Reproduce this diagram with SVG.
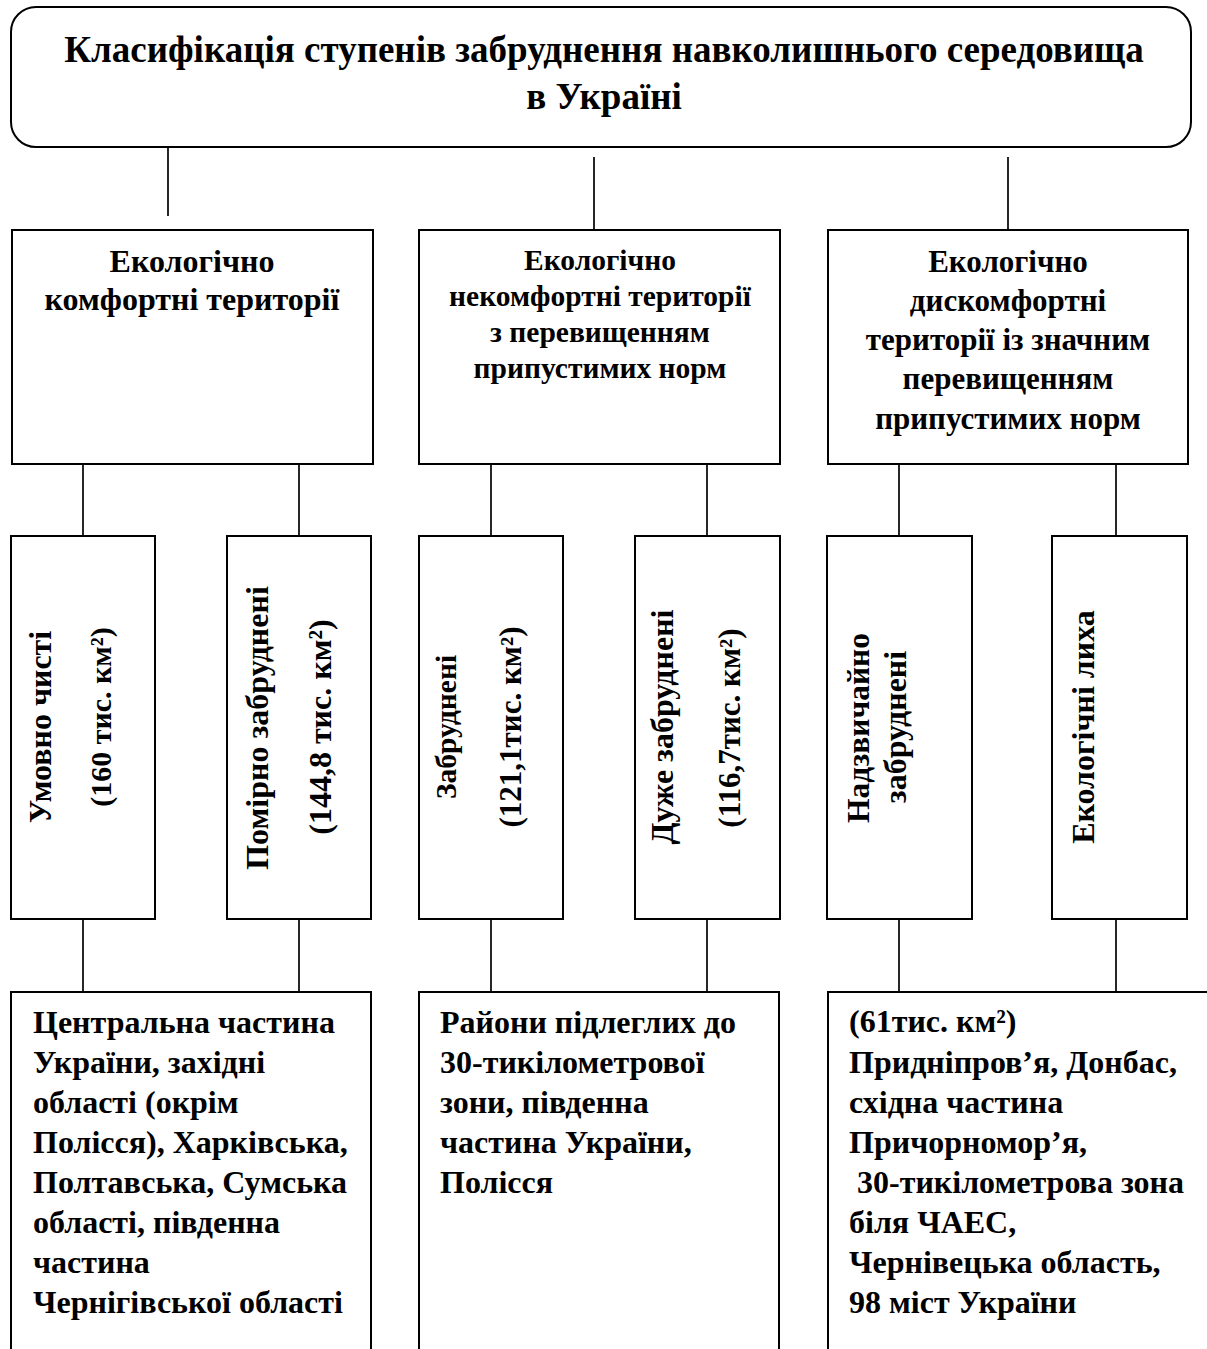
<svg xmlns="http://www.w3.org/2000/svg" width="1207" height="1349" viewBox="0 0 1207 1349">
<style>
.box{fill:#fff;stroke:#000;stroke-width:2}
.ln{stroke:#000;stroke-width:1.7;fill:none}
text{font-family:"Liberation Serif","Times New Roman",serif;font-weight:bold;fill:#000}
.t{font-size:37px;text-anchor:middle}
.c{font-size:31px;text-anchor:middle}
.v{font-size:32px;text-anchor:middle}
.b{font-size:32px}
</style>
<rect width="1207" height="1349" fill="#fff"/>
<g id="connectors">
<line class="ln" x1="168" y1="147" x2="168" y2="216"/>
<line class="ln" x1="594" y1="157" x2="594" y2="230"/>
<line class="ln" x1="1008" y1="157" x2="1008" y2="230"/>
<line class="ln" x1="83" y1="464" x2="83" y2="536"/>
<line class="ln" x1="299" y1="464" x2="299" y2="536"/>
<line class="ln" x1="491" y1="464" x2="491" y2="536"/>
<line class="ln" x1="707" y1="464" x2="707" y2="536"/>
<line class="ln" x1="899" y1="464" x2="899" y2="536"/>
<line class="ln" x1="1116" y1="464" x2="1116" y2="536"/>
<line class="ln" x1="83" y1="919" x2="83" y2="992"/>
<line class="ln" x1="299" y1="919" x2="299" y2="992"/>
<line class="ln" x1="491" y1="919" x2="491" y2="992"/>
<line class="ln" x1="707" y1="919" x2="707" y2="992"/>
<line class="ln" x1="899" y1="919" x2="899" y2="992"/>
<line class="ln" x1="1116" y1="919" x2="1116" y2="992"/>
</g>
<g id="title">
<rect class="box" x="11" y="7" width="1180" height="140" rx="25"/>
<text class="t" x="604" y="62">Класифікація ступенів забруднення навколишнього середовища</text>
<text class="t" x="604" y="109">в Україні</text>
</g>
<g id="cat1">
<rect class="box" x="12" y="230" width="361" height="234"/>
<text class="c" x="192" y="272" style="font-size:32px">Екологічно</text>
<text class="c" x="192" y="310" style="font-size:32px">комфортні території</text>
</g>
<g id="cat2">
<rect class="box" x="419" y="230" width="361" height="234"/>
<text class="c" x="600" y="270" style="font-size:29.5px">Екологічно</text>
<text class="c" x="600" y="306" style="font-size:29.5px">некомфортні території</text>
<text class="c" x="600" y="342" style="font-size:29.5px">з перевищенням</text>
<text class="c" x="600" y="378" style="font-size:29.5px">припустимих норм</text>
</g>
<g id="cat3">
<rect class="box" x="828" y="230" width="360" height="234"/>
<text class="c" x="1008" y="272">Екологічно</text>
<text class="c" x="1008" y="311">дискомфортні</text>
<text class="c" x="1008" y="350">території із значним</text>
<text class="c" x="1008" y="389">перевищенням</text>
<text class="c" x="1008" y="429">припустимих норм</text>
</g>
<g id="v1">
<rect class="box" x="11" y="536" width="144" height="383"/>
<text class="v" transform="translate(51,727) rotate(-90)">Умовно чисті</text>
<text class="v" transform="translate(111,717) rotate(-90)" style="font-size:30px">(160 тис. км²)</text>
</g>
<g id="v2">
<rect class="box" x="227" y="536" width="144" height="383"/>
<text class="v" transform="translate(268,728) rotate(-90)">Помірно забруднені</text>
<text class="v" transform="translate(331,727) rotate(-90)">(144,8 тис. км²)</text>
</g>
<g id="v3">
<rect class="box" x="419" y="536" width="144" height="383"/>
<text class="v" transform="translate(456,727) rotate(-90)" style="font-size:29.5px">Забруднені</text>
<text class="v" transform="translate(521,727) rotate(-90)" style="font-size:31px">(121,1тис. км²)</text>
</g>
<g id="v4">
<rect class="box" x="635" y="536" width="145" height="383"/>
<text class="v" transform="translate(673,727) rotate(-90)">Дуже забруднені</text>
<text class="v" transform="translate(740,728) rotate(-90)" style="font-size:31px">(116,7тис. км²)</text>
</g>
<g id="v5">
<rect class="box" x="827" y="536" width="145" height="383"/>
<text class="v" transform="translate(869,728) rotate(-90)" style="font-size:31.5px">Надзвичайно</text>
<text class="v" transform="translate(906,727) rotate(-90)">забруднені</text>
</g>
<g id="v6">
<rect class="box" x="1052" y="536" width="135" height="383"/>
<text class="v" transform="translate(1094,727) rotate(-90)">Екологічні лиха</text>
</g>
<g id="d1">
<rect class="box" x="11" y="992" width="360" height="400"/>
<text class="b" x="33" y="1033">Центральна частина</text>
<text class="b" x="33" y="1073">України, західні</text>
<text class="b" x="33" y="1113">області (окрім</text>
<text class="b" x="33" y="1153">Полісся), Харківська,</text>
<text class="b" x="33" y="1193">Полтавська, Сумська</text>
<text class="b" x="33" y="1233">області, південна</text>
<text class="b" x="33" y="1273">частина</text>
<text class="b" x="33" y="1313">Чернігівської області</text>
</g>
<g id="d2">
<rect class="box" x="419" y="992" width="360" height="400"/>
<text class="b" x="440" y="1033">Райони підлеглих до</text>
<text class="b" x="440" y="1073">30-тикілометрової</text>
<text class="b" x="440" y="1113">зони, південна</text>
<text class="b" x="440" y="1153">частина України,</text>
<text class="b" x="440" y="1193">Полісся</text>
</g>
<g id="d3">
<rect class="box" x="828" y="992" width="420" height="400"/>
<text class="b" x="849" y="1032">(61тис. км²)</text>
<text class="b" x="849" y="1073">Придніпров’я, Донбас,</text>
<text class="b" x="849" y="1113">східна частина</text>
<text class="b" x="849" y="1153">Причорномор’я,</text>
<text class="b" x="849" y="1193" xml:space="preserve"> 30-тикілометрова зона</text>
<text class="b" x="849" y="1233">біля ЧАЕС,</text>
<text class="b" x="849" y="1273">Чернівецька область,</text>
<text class="b" x="849" y="1313">98 міст України</text>
</g>
</svg>
